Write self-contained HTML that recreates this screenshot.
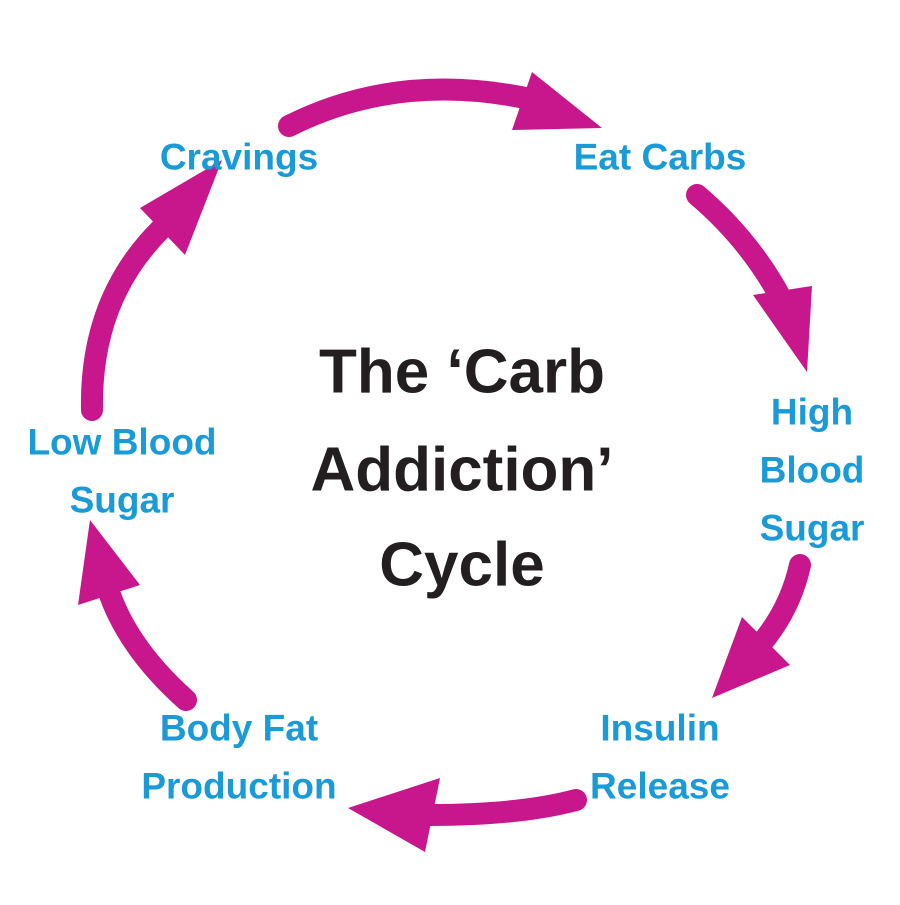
<!DOCTYPE html>
<html><head><style>html,body{margin:0;padding:0;background:#fff}</style></head>
<body>
<svg width="900" height="900" viewBox="0 0 900 900" xmlns="http://www.w3.org/2000/svg">
<rect width="900" height="900" fill="#fff"/>
<g fill="none" stroke="#c8168c" stroke-width="22" stroke-linecap="round">
<path d="M289,126 Q400,70 535,100"/>
<path d="M697,195 Q750,240 782,300"/>
<path d="M800,565 Q790,610 760,645"/>
<path d="M576,800 Q520,815 430,815"/>
<path d="M186,700 Q130,650 110,595"/>
<path d="M92,410 Q90,300 160,230"/>
</g>
<g fill="#c8168c">
<polygon points="532,72 602,128 512,130"/>
<polygon points="753,295 812,286 807,372"/>
<polygon points="742,617 790,665 712,698"/>
<polygon points="440,778 425,852 348,808"/>
<polygon points="78,605 140,585 90,520"/>
<polygon points="140,208 185,255 222,160"/>
</g>
<g font-family="'Liberation Sans',sans-serif" font-weight="bold" fill="#1a9ad6" font-size="37" text-anchor="middle" dominant-baseline="central">
<text x="239" y="157">Cravings</text>
<text x="660" y="157">Eat Carbs</text>
<text x="812" y="412">High</text>
<text x="812" y="470">Blood</text>
<text x="812" y="528">Sugar</text>
<text x="660" y="728">Insulin</text>
<text x="660" y="786">Release</text>
<text x="239" y="728">Body Fat</text>
<text x="239" y="786">Production</text>
<text x="122" y="442">Low Blood</text>
<text x="122" y="500">Sugar</text>
</g>
<g font-family="'Liberation Sans',sans-serif" font-weight="bold" fill="#231f20" font-size="62" text-anchor="middle" dominant-baseline="central">
<text x="462" y="372">The ‘Carb</text>
<text x="462" y="470">Addiction’</text>
<text x="462" y="565">Cycle</text>
</g>
</svg>
</body></html>
